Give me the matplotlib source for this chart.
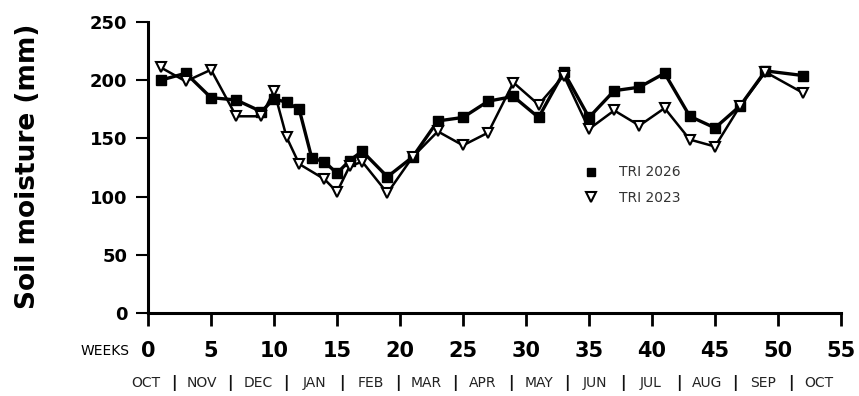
import matplotlib
matplotlib.use("Agg")
import matplotlib.pyplot as plt
from matplotlib.lines import Line2D

# weekly soil moisture readings (mm)
weeks = [1, 3, 5, 7, 9, 10, 11, 12, 13, 14, 15, 16, 17, 19, 21, 23, 25, 27,
         29, 31, 33, 35, 37, 39, 41, 43, 45, 47, 49, 52]
tri_2026 = [200, 206, 185, 183, 173, 184, 181, 175, 133, 130, 120, 131, 139,
            117, 134, 165, 168, 182, 186, 168, 207, 168, 191, 194, 206, 169,
            159, 178, 208, 204]

weeks_2023 = [1, 3, 5, 7, 9, 10, 11, 12, 14, 15, 16, 17, 19, 21, 23, 25, 27,
              29, 31, 33, 35, 37, 39, 41, 43, 45, 47, 49, 52]
tri_2023 = [211, 199, 209, 169, 169, 191, 151, 128, 115, 104, 126, 130, 103,
            134, 156, 144, 155, 198, 179, 204, 158, 174, 161, 176, 149, 143,
            178, 207, 189]

months = ["OCT", "NOV", "DEC", "JAN", "FEB", "MAR", "APR", "MAY", "JUN",
          "JUL", "AUG", "SEP", "OCT"]

fig = plt.figure(figsize=(8.59, 3.96), dpi=100)
ax = fig.add_axes([148 / 859, 1 - 313 / 396, 693 / 859, 291 / 396])

ax.plot(weeks, tri_2026, color="black", lw=2.4, marker="s", markersize=7,
        markerfacecolor="black", markeredgecolor="black", zorder=3,
        label="TRI 2026")
ax.plot(weeks_2023, tri_2023, color="black", lw=1.8, marker="v",
        markersize=7.5, markerfacecolor="white", markeredgecolor="black",
        markeredgewidth=1.5, zorder=4, label="TRI 2023")

ax.set_xlim(0, 55)
ax.set_ylim(0, 250)
ax.set_xticks(range(0, 56, 5))
ax.set_yticks(range(0, 251, 50))

for side in ("top", "right"):
    ax.spines[side].set_visible(False)
for side in ("left", "bottom"):
    ax.spines[side].set_linewidth(2.2)

ax.tick_params(axis="x", length=9, width=2, pad=11, labelsize=15)
ax.tick_params(axis="y", length=9, width=1.5, pad=6, labelsize=13)
for lab in ax.get_xticklabels() + ax.get_yticklabels():
    lab.set_fontweight("bold")

fig.text(28 / 859, 1 - 166 / 396, "Soil moisture (mm)", rotation=90,
         fontsize=19, fontweight="bold", ha="center", va="center")
fig.text(130 / 859, 1 - 351 / 396, "WEEKS", fontsize=10, ha="right",
         va="center")

# month strip under the week axis
step = 4.45
for i, m in enumerate(months):
    ax.text(-0.15 + i * step, -0.24, m, transform=ax.get_xaxis_transform(),
            fontsize=10, ha="center", va="center", color="#222222")
    if i < len(months) - 1:
        ax.text(-0.15 + (i + 0.5) * step, -0.24, "|",
                transform=ax.get_xaxis_transform(), fontsize=11,
                fontweight="bold", ha="center", va="center",
                color="#111111")

handles = [
    Line2D([], [], ls="none", marker="s", markersize=6, color="black"),
    Line2D([], [], ls="none", marker="v", markersize=6.5,
           markerfacecolor="white", markeredgecolor="black",
           markeredgewidth=1.5),
]
ax.legend(handles, ["TRI 2026", "TRI 2023"], frameon=False, loc="center left",
          bbox_to_anchor=(570 / 859, 1 - 185 / 396),
          bbox_transform=fig.transFigure, handlelength=1.2,
          handletextpad=1.4, labelspacing=0.8, fontsize=10,
          labelcolor="#333333")

fig.savefig("out.png", dpi=100)
